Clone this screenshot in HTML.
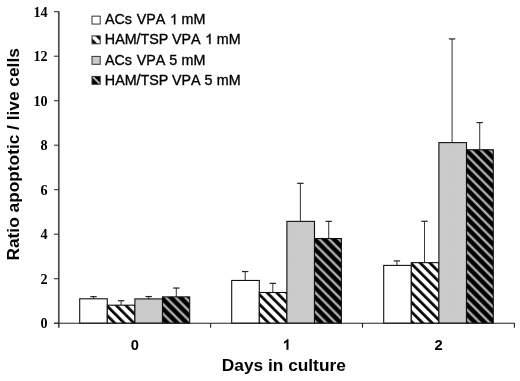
<!DOCTYPE html>
<html><head><meta charset="utf-8"><title>chart</title>
<style>
html,body{margin:0;padding:0;background:#fff;}
body{width:520px;height:381px;overflow:hidden;font-family:"Liberation Sans",sans-serif;}
svg{display:block;will-change:transform}
text{fill:#000}
.ser{font-family:"Liberation Serif",serif;font-weight:bold;font-size:14.2px}
.leg{font-family:"Liberation Sans",sans-serif;font-size:14.3px;font-kerning:none;stroke:#000;stroke-width:0.35px}
.xt{font-family:"Liberation Sans",sans-serif;font-weight:bold;font-size:14.7px}
.ttl{font-family:"Liberation Sans",sans-serif;font-weight:bold;font-size:17px}
</style></head><body>
<svg width="520" height="381" viewBox="0 0 520 381">
<defs>
<pattern id="hw" width="6.806" height="6.806" patternUnits="userSpaceOnUse" patternTransform="rotate(45)">
<rect width="6.806" height="6.806" fill="#fff"/><rect y="3.1" width="6.806" height="2.7" fill="#000"/></pattern>
<pattern id="hb" width="6.806" height="6.806" patternUnits="userSpaceOnUse" patternTransform="rotate(45)">
<rect width="6.806" height="6.806" fill="#000"/><rect y="3.4" width="6.806" height="2.1" fill="#c4c4c4"/></pattern>
<pattern id="gd" width="2.46" height="2.46" patternUnits="userSpaceOnUse">
<rect width="2.46" height="2.46" fill="#cecece"/><rect width="1.1" height="2.46" fill="#c9c9c9"/><rect width="2.46" height="1.1" fill="#c9c9c9"/></pattern>
</defs>
<rect width="520" height="381" fill="#fff"/>

<line x1="93.50" y1="298.80" x2="93.50" y2="296.65" stroke="#3a3a3a" stroke-width="1.05"/>
<line x1="90.30" y1="296.65" x2="96.70" y2="296.65" stroke="#222" stroke-width="1.2"/>
<rect x="79.70" y="298.80" width="27.60" height="24.40" fill="#fff" stroke="#111" stroke-width="1.1"/>
<line x1="121.10" y1="305.18" x2="121.10" y2="300.73" stroke="#3a3a3a" stroke-width="1.05"/>
<line x1="117.90" y1="300.73" x2="124.30" y2="300.73" stroke="#222" stroke-width="1.2"/>
<rect x="107.30" y="305.18" width="27.60" height="18.02" fill="url(#hw)" stroke="#111" stroke-width="1.1"/>
<line x1="148.70" y1="298.90" x2="148.70" y2="296.55" stroke="#3a3a3a" stroke-width="1.05"/>
<line x1="145.50" y1="296.55" x2="151.90" y2="296.55" stroke="#222" stroke-width="1.2"/>
<rect x="134.90" y="298.90" width="27.60" height="24.30" fill="url(#gd)" stroke="#111" stroke-width="1.1"/>
<line x1="176.30" y1="296.88" x2="176.30" y2="288.04" stroke="#3a3a3a" stroke-width="1.05"/>
<line x1="173.10" y1="288.04" x2="179.50" y2="288.04" stroke="#222" stroke-width="1.2"/>
<rect x="162.50" y="296.88" width="27.20" height="26.32" fill="url(#hb)" stroke="#111" stroke-width="1.1"/>
<line x1="245.20" y1="280.46" x2="245.20" y2="271.56" stroke="#3a3a3a" stroke-width="1.05"/>
<line x1="242.00" y1="271.56" x2="248.40" y2="271.56" stroke="#222" stroke-width="1.2"/>
<rect x="231.70" y="280.46" width="27.60" height="42.74" fill="#fff" stroke="#111" stroke-width="1.1"/>
<line x1="272.80" y1="292.49" x2="272.80" y2="283.36" stroke="#3a3a3a" stroke-width="1.05"/>
<line x1="269.60" y1="283.36" x2="276.00" y2="283.36" stroke="#222" stroke-width="1.2"/>
<rect x="259.30" y="292.49" width="27.60" height="30.71" fill="url(#hw)" stroke="#111" stroke-width="1.1"/>
<line x1="300.40" y1="221.38" x2="300.40" y2="183.32" stroke="#3a3a3a" stroke-width="1.05"/>
<line x1="297.20" y1="183.32" x2="303.60" y2="183.32" stroke="#222" stroke-width="1.2"/>
<rect x="286.90" y="221.38" width="27.60" height="101.82" fill="url(#gd)" stroke="#111" stroke-width="1.1"/>
<line x1="328.70" y1="238.53" x2="328.70" y2="221.36" stroke="#3a3a3a" stroke-width="1.05"/>
<line x1="325.50" y1="221.36" x2="331.90" y2="221.36" stroke="#222" stroke-width="1.2"/>
<rect x="314.50" y="238.53" width="26.90" height="84.67" fill="url(#hb)" stroke="#111" stroke-width="1.1"/>
<line x1="396.90" y1="265.40" x2="396.90" y2="260.92" stroke="#3a3a3a" stroke-width="1.05"/>
<line x1="393.70" y1="260.92" x2="400.10" y2="260.92" stroke="#222" stroke-width="1.2"/>
<rect x="383.70" y="265.40" width="27.60" height="57.80" fill="#fff" stroke="#111" stroke-width="1.1"/>
<line x1="424.50" y1="262.65" x2="424.50" y2="221.26" stroke="#3a3a3a" stroke-width="1.05"/>
<line x1="421.30" y1="221.26" x2="427.70" y2="221.26" stroke="#222" stroke-width="1.2"/>
<rect x="411.30" y="262.65" width="27.60" height="60.55" fill="url(#hw)" stroke="#111" stroke-width="1.1"/>
<line x1="452.10" y1="142.61" x2="452.10" y2="38.94" stroke="#3a3a3a" stroke-width="1.05"/>
<line x1="448.90" y1="38.94" x2="455.30" y2="38.94" stroke="#222" stroke-width="1.2"/>
<rect x="438.90" y="142.61" width="27.60" height="180.59" fill="url(#gd)" stroke="#111" stroke-width="1.1"/>
<line x1="479.70" y1="149.74" x2="479.70" y2="122.57" stroke="#3a3a3a" stroke-width="1.05"/>
<line x1="476.50" y1="122.57" x2="482.90" y2="122.57" stroke="#222" stroke-width="1.2"/>
<rect x="466.50" y="149.74" width="26.80" height="173.46" fill="url(#hb)" stroke="#111" stroke-width="1.1"/>
<line x1="58.8" y1="11.2" x2="58.8" y2="327.8" stroke="#4c4c4c" stroke-width="1.7"/>
<line x1="54.0" y1="323.2" x2="514.9" y2="323.2" stroke="#222" stroke-width="1.1"/>
<line x1="54.0" y1="323.20" x2="58.8" y2="323.20" stroke="#333" stroke-width="1.1"/>
<text class="ser" x="47.7" y="328.20" text-anchor="end">0</text>
<line x1="54.0" y1="278.70" x2="58.8" y2="278.70" stroke="#333" stroke-width="1.1"/>
<text class="ser" x="47.7" y="283.70" text-anchor="end">2</text>
<line x1="54.0" y1="234.20" x2="58.8" y2="234.20" stroke="#333" stroke-width="1.1"/>
<text class="ser" x="47.7" y="239.20" text-anchor="end">4</text>
<line x1="54.0" y1="189.70" x2="58.8" y2="189.70" stroke="#333" stroke-width="1.1"/>
<text class="ser" x="47.7" y="194.70" text-anchor="end">6</text>
<line x1="54.0" y1="145.20" x2="58.8" y2="145.20" stroke="#333" stroke-width="1.1"/>
<text class="ser" x="47.7" y="150.20" text-anchor="end">8</text>
<line x1="54.0" y1="100.70" x2="58.8" y2="100.70" stroke="#333" stroke-width="1.1"/>
<text class="ser" x="47.7" y="105.70" text-anchor="end">10</text>
<line x1="54.0" y1="56.20" x2="58.8" y2="56.20" stroke="#333" stroke-width="1.1"/>
<text class="ser" x="47.7" y="61.20" text-anchor="end">12</text>
<line x1="54.0" y1="11.70" x2="58.8" y2="11.70" stroke="#333" stroke-width="1.1"/>
<text class="ser" x="47.7" y="16.70" text-anchor="end">14</text>
<line x1="210.6" y1="323.2" x2="210.6" y2="327.7" stroke="#222" stroke-width="1.1"/>
<line x1="362.5" y1="323.2" x2="362.5" y2="327.7" stroke="#222" stroke-width="1.1"/>
<line x1="514.4" y1="323.2" x2="514.4" y2="327.7" stroke="#222" stroke-width="1.1"/>
<text class="xt" x="134.8" y="349.7" text-anchor="middle">0</text>
<text class="xt" x="438.6" y="349.7" text-anchor="middle">2</text>
<path transform="translate(278.5,349.7) scale(0.007178,-0.007178)" d="M1393 0H1112V1059Q958 915 749 846V1101Q859 1137 988 1237.5Q1117 1338 1165 1472H1393Z" fill="#000"/>
<text class="ttl" x="221.8" y="371.1" textLength="124" lengthAdjust="spacingAndGlyphs">Days in culture</text>
<text class="ttl" style="font-size:17.2px" transform="translate(19.0,260.5) rotate(-90)" textLength="212.3" lengthAdjust="spacingAndGlyphs">Ratio apoptotic / live cells</text>
<rect x="92" y="16.15" width="8.2" height="7.9" fill="#fff" stroke="#333" stroke-width="1"/>
<text class="leg" x="104.88" y="24.35">ACs</text>
<text class="leg" x="136.74" y="24.35">VPA</text>
<path transform="translate(169.91,24.35) scale(0.006982,-0.006982)" d="M763 0H583V1147Q518 1085 412.5 1023Q307 961 223 930V1104Q374 1175 487 1276Q600 1377 647 1472H763Z" fill="#000" stroke="#000" stroke-width="50"/>
<text class="leg" x="181.59" y="24.35">mM</text>
<pattern id="s1" width="7" height="7" patternUnits="userSpaceOnUse" patternTransform="translate(96.2,39.70) rotate(45)"><rect width="7" height="7" fill="#fff"/><rect y="2.05" width="7" height="2.9" fill="#000"/></pattern>
<rect x="92" y="35.90" width="8.2" height="7.9" fill="url(#s1)" stroke="#333" stroke-width="1"/>
<text class="leg" x="104.82" y="44.10">HAM/TSP</text>
<text class="leg" x="171.94" y="44.10">VPA</text>
<path transform="translate(205.16,44.10) scale(0.006982,-0.006982)" d="M763 0H583V1147Q518 1085 412.5 1023Q307 961 223 930V1104Q374 1175 487 1276Q600 1377 647 1472H763Z" fill="#000" stroke="#000" stroke-width="50"/>
<text class="leg" x="216.79" y="44.10">mM</text>
<rect x="92" y="56.40" width="8.2" height="7.9" fill="url(#gd)" stroke="#333" stroke-width="1"/>
<text class="leg" x="104.88" y="64.60">ACs</text>
<text class="leg" x="136.74" y="64.60">VPA</text>
<text class="leg" x="169.34" y="64.60">5</text>
<text class="leg" x="181.59" y="64.60">mM</text>
<pattern id="s3" width="7" height="7" patternUnits="userSpaceOnUse" patternTransform="translate(96.2,80.20) rotate(45)"><rect width="7" height="7" fill="#000"/><rect y="-1" width="7" height="2" fill="#b8b8b8"/><rect y="6" width="7" height="1" fill="#b8b8b8"/></pattern>
<rect x="92" y="76.40" width="8.2" height="7.9" fill="url(#s3)" stroke="#333" stroke-width="1"/>
<text class="leg" x="104.82" y="84.60">HAM/TSP</text>
<text class="leg" x="171.94" y="84.60">VPA</text>
<text class="leg" x="204.59" y="84.60">5</text>
<text class="leg" x="216.79" y="84.60">mM</text>
</svg></body></html>
